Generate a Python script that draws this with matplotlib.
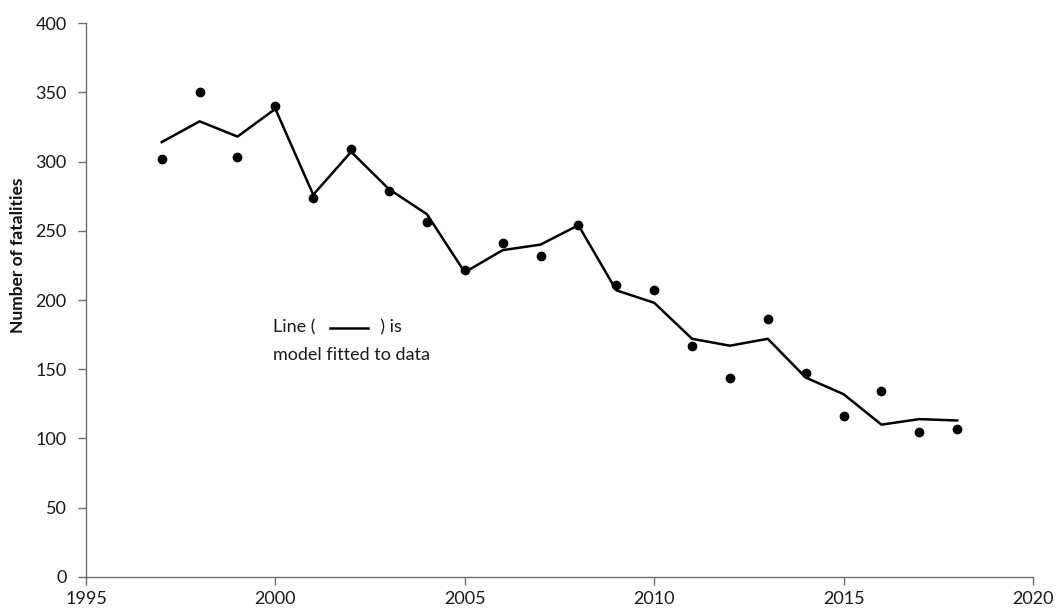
import matplotlib
matplotlib.use("Agg")
import matplotlib.pyplot as plt
from matplotlib.lines import Line2D

# Observed fatalities (dots) and fitted model (line)
years = [1997, 1998, 1999, 2000, 2001, 2002, 2003, 2004, 2005, 2006, 2007,
         2008, 2009, 2010, 2011, 2012, 2013, 2014, 2015, 2016, 2017, 2018]
observed = [302, 350, 303, 340, 274, 309, 279, 256, 222, 241, 232,
            254, 211, 207, 167, 144, 186, 147, 116, 134, 105, 107]
fitted = [314, 329, 318, 338, 276, 307, 280, 262, 220, 236, 240,
          254, 207, 198, 172, 167, 172, 144, 132, 110, 114, 113]

x_ticks = [1995, 2000, 2005, 2010, 2015, 2020]
y_ticks = [0, 50, 100, 150, 200, 250, 300, 350, 400]

plt.rcParams['font.family'] = ['Lato', 'DejaVu Sans']

fig = plt.figure(figsize=(10.56, 6.12), dpi=100)
ax = fig.add_axes([0.0814, 0.0572, 0.8968, 0.9052])

ax.plot(years, fitted, color='black', linewidth=1.8)
ax.plot(years, observed, 'o', color='black', markersize=6)

ax.set_xlim(1995, 2020)
ax.set_ylim(0, 400)
ax.set_xticks(x_ticks)
ax.set_yticks(y_ticks)

for side in ['top', 'right']:
    ax.spines[side].set_visible(False)
for side in ['left', 'bottom']:
    ax.spines[side].set_color('#6e6e6e')
    ax.spines[side].set_linewidth(1.0)
ax.tick_params(axis='both', direction='out', length=6, width=1.0,
               color='#6e6e6e', labelsize=13, labelcolor='#1a1a1a')
ax.tick_params(axis='y', pad=8)
ax.tick_params(axis='x', pad=4)

ax.set_ylabel('Number of fatalities', fontsize=12.5, fontweight='bold',
              color='#111111')
ax.yaxis.set_label_coords(-0.063, 0.58)

# annotation explaining the line
ax.text(1999.95, 180, 'Line (              ) is', fontsize=13,
        color='#1a1a1a', va='center', ha='left')
ax.text(1999.95, 160, 'model fitted to data', fontsize=13,
        color='#1a1a1a', va='center', ha='left')
key = Line2D([2001.45, 2002.45], [180, 180], color='black', linewidth=1.8)
ax.add_line(key)

fig.savefig('out.png', dpi=100)
